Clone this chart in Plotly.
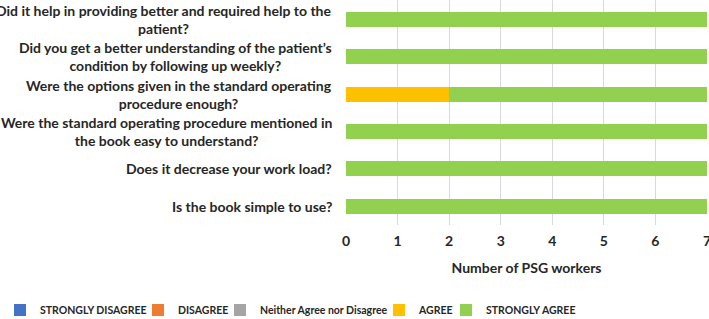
import plotly.graph_objects as go

categories = [
    "Is the book simple to use?",
    "Does it decrease your work load?",
    "Were the standard operating procedure mentioned in<br>the book easy to understand?",
    "Were the options given in the standard operating<br>procedure enough?",
    "Did you get a better understanding of the patient’s<br>condition by following up weekly?",
    "Did it help in providing better and required help to the<br>patient?",
]
series_names = ["STRONGLY DISAGREE", "DISAGREE", "Neither Agree nor Disagree", "AGREE", "STRONGLY AGREE"]
strongly_disagree = [0, 0, 0, 0, 0, 0]
disagree = [0, 0, 0, 0, 0, 0]
neither = [0, 0, 0, 0, 0, 0]
agree = [0, 0, 0, 2, 0, 0]
strongly_agree = [7, 7, 7, 5, 7, 7]
colors = ["#4472C4", "#ED7D31", "#A5A5A5", "#FFC000", "#92D050"]
x_ticks = [0, 1, 2, 3, 4, 5, 6, 7]

FONT = "Lato"
TXT = "#262626"
legend_ids = ["legend", "legend2", "legend3", "legend4", "legend5"]
legend_x = [-0.9584, -0.5762, -0.3490, 0.0914, 0.2770]

fig = go.Figure()
for name, vals, col, lid in zip(series_names, [strongly_disagree, disagree, neither, agree, strongly_agree],
                                colors, legend_ids):
    fig.add_trace(go.Bar(y=categories, x=vals, name=name, orientation="h", legend=lid,
                         showlegend=True, marker=dict(color=col, line=dict(width=0))))

for c in categories:
    fig.add_annotation(x=0, xref="paper", y=c, yref="y", text=c, showarrow=False,
                       xanchor="right", yanchor="middle", align="center", xshift=-12,
                       font=dict(family=FONT, size=14, color=TXT, weight="bold"))

legend_layout = {}
for lid, lx in zip(legend_ids, legend_x):
    legend_layout[lid] = dict(orientation="h", xref="paper", x=lx, xanchor="left",
                              yref="paper", y=-0.378, yanchor="middle",
                              font=dict(family=FONT, size=10.5, color=TXT, weight="bold"),
                              itemwidth=30, bgcolor="rgba(0,0,0,0)")

fig.update_layout(
    barmode="stack", bargap=0.6, showlegend=True,
    width=709, height=319,
    margin=dict(l=346, r=2, t=0, b=94, autoexpand=False),
    plot_bgcolor="white", paper_bgcolor="white",
    font=dict(family=FONT, size=14, color=TXT, weight="bold"),
    xaxis=dict(range=[0, 7], tickvals=x_ticks, showgrid=True, gridcolor="#D9D9D9", gridwidth=1,
               zeroline=False, showline=False, ticks="", automargin=False,
               ticklabeloverflow="allow", ticklabelstandoff=6,
               tickfont=dict(family=FONT, size=14, color=TXT, weight="bold"),
               title=dict(text="Number of PSG workers", standoff=15,
                          font=dict(family=FONT, size=14, color=TXT, weight="bold"))),
    yaxis=dict(categoryorder="array", categoryarray=categories, showticklabels=False,
               showgrid=False, zeroline=False, showline=False, automargin=False),
    **legend_layout,
)
fig.write_html("out.html", config={"displayModeBar": False},
               post_script="document.body.style.margin='0px';")
